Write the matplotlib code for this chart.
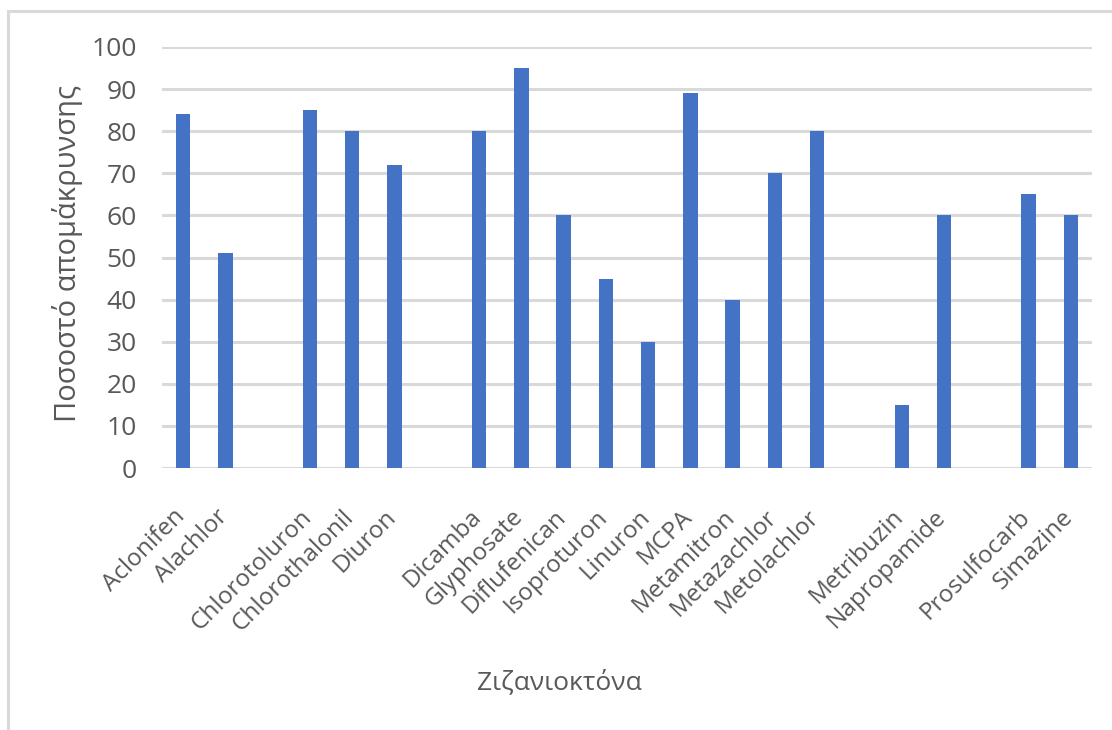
import matplotlib
matplotlib.use("Agg")
import matplotlib.pyplot as plt
from matplotlib.patches import Rectangle
from matplotlib.transforms import ScaledTranslation

plt.rcParams['font.family'] = ['Open Sans', 'DejaVu Sans']

# Herbicides (blank entries are empty category slots)
herbicides = ["Aclonifen", "Alachlor", "", "Chlorotoluron", "Chlorothalonil", "Diuron",
              "", "Dicamba", "Glyphosate", "Diflufenican", "Isoproturon", "Linuron",
              "MCPA", "Metamitron", "Metazachlor", "Metolachlor", "", "Metribuzin",
              "Napropamide", "", "Prosulfocarb", "Simazine"]
removal_pct = [84, 51, 0, 85, 80, 72,
               0, 80, 95, 60, 45, 30,
               89, 40, 70, 80, 0, 15,
               60, 0, 65, 60]
y_ticks = [0, 10, 20, 30, 40, 50, 60, 70, 80, 90, 100]

text_color = "#595959"
grid_color = "#D9D9D9"
bar_color = "#4472C4"

W, H = 1112, 730
fig = plt.figure(figsize=(W / 100, H / 100), dpi=100)

# Chart-area frame
fig.patches.append(Rectangle((8 / W, -0.05), 1.2, 1 - 10.5 / H + 0.05,
                             transform=fig.transFigure, fill=False,
                             edgecolor=grid_color, linewidth=2.2))

ax = fig.add_axes([162 / W, 1 - 468 / H, (1092 - 162) / W, (468 - 47) / H])

x = list(range(len(herbicides)))
ax.bar(x, removal_pct, width=0.34, color=bar_color, zorder=3)

ax.set_xlim(-0.5, len(herbicides) - 0.5)
ax.set_ylim(0, 100)
ax.set_yticks(y_ticks)
ax.set_yticklabels([str(v) for v in y_ticks], fontsize=19, color=text_color)
ax.tick_params(axis='y', length=0, pad=18)
ax.tick_params(axis='x', length=0, pad=26.5)

ax.set_xticks(x)
ax.set_xticklabels(herbicides, rotation=45, ha='right', va='top',
                   rotation_mode='anchor', fontsize=17.5, color=text_color)
# nudge rotated labels left so their ends sit under the bars
shift = ScaledTranslation(-0.10, 0, fig.dpi_scale_trans)
for lbl in ax.get_xticklabels():
    lbl.set_transform(lbl.get_transform() + shift)

ax.yaxis.grid(True, color=grid_color, linewidth=2.2, zorder=0)
ax.set_axisbelow(True)
for s in ax.spines.values():
    s.set_visible(False)

fig.text(68 / W, 1 - 253 / H, "Ποσοστό απομάκρυνσης", fontsize=21,
         color=text_color, rotation=90, ha='center', va='center')
fig.text(559 / W, 1 - 682 / H, "Ζιζανιοκτόνα", fontsize=19, color=text_color,
         ha='center', va='center')

fig.savefig("out.png", dpi=100, facecolor="white")
